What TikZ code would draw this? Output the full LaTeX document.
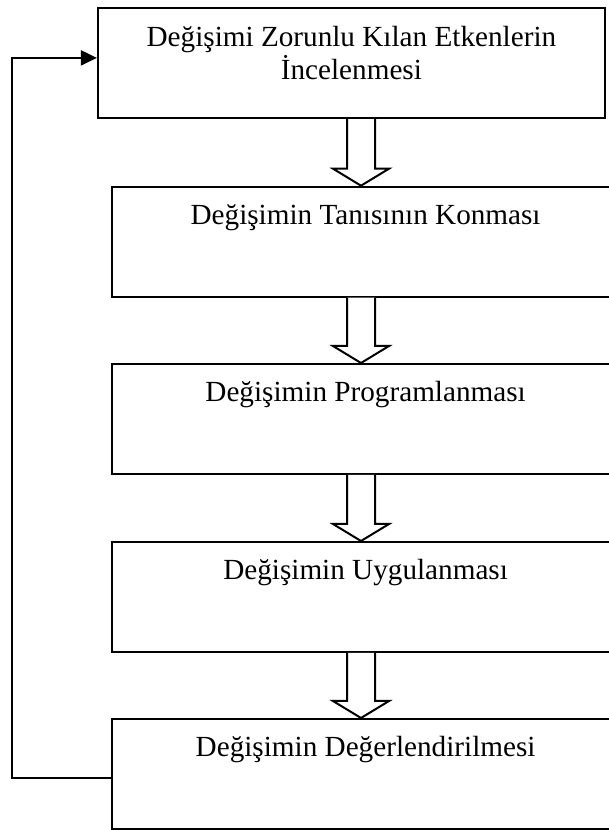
\documentclass[tikz,border=0pt]{standalone}
\usepackage{fontspec}
\setmainfont{Liberation Serif}
\usepackage{tikz}
\usetikzlibrary{arrows.meta, calc}

\begin{document}
\begin{tikzpicture}[
  x=1pt, y=1pt,
  stage/.style={draw, fill=white, line width=2pt, minimum width=507pt, minimum height=110pt,
    inner ysep=0pt, text height=37.5pt, text depth=72.5pt,
    font=\fontsize{29.2}{33}\selectfont},
  hollow/.style={draw, fill=white, line width=2pt, to path={
    let \p1=(\tikztostart), \p2=(\tikztotarget) in
    (\x1-14pt,\y1) -- (\x1-14pt,\y2+17pt) -- (\x1-28pt,\y2+17pt) -- (\x2,\y2)
    -- (\x1+28pt,\y2+17pt) -- (\x1+14pt,\y2+17pt) -- (\x1+14pt,\y1)}},
  feedback/.style={line width=2pt, -{Triangle[length=16pt,width=15pt]}},
]
  \useasboundingbox (0,0) rectangle (609,830);

  \node[stage, align=center, text height=71.4pt, text depth=38.3pt] (study) at (351.4,766.8)
    {Değişimi Zorunlu Kılan Etkenlerin\\İncelenmesi};
  \node[stage] (diag) at (365.6,588.3) {Değişimin Tanısının Konması};
  \node[stage] (prog) at (365.6,411) {Değişimin Programlanması};
  \node[stage] (apply) at (365.6,233) {Değişimin Uygulanması};
  \node[stage] (eval) at (365.6,56) {Değişimin Değerlendirilmesi};

  % block arrows share one axis
  \coordinate (axis) at (361,0);
  \draw[hollow] (study.south -| axis) to (diag.north -| axis);
  \draw[hollow] (diag.south -| axis) to (prog.north -| axis);
  \draw[hollow] (prog.south -| axis) to (apply.north -| axis);
  \draw[hollow] (apply.south -| axis) to (eval.north -| axis);

  % loop back to the start
  \draw[feedback] ([yshift=-4.3pt]eval.west) -- ++(-99.3pt,0) |- ([yshift=5.3pt]study.west);
\end{tikzpicture}
\end{document}
